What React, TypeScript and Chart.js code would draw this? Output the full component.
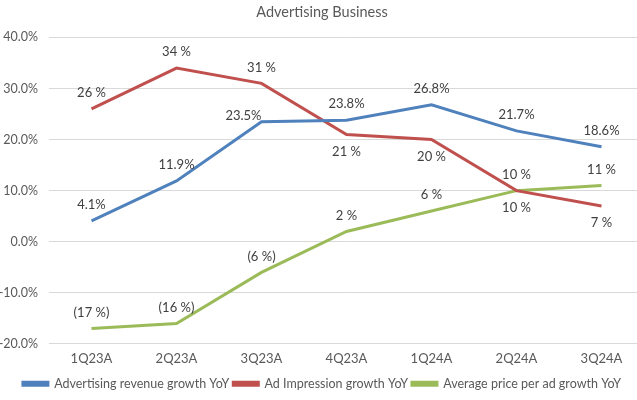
import React, { useEffect, useRef } from "react";
import { Chart, registerables } from "chart.js";

Chart.register(...registerables);

const categories = ["1Q23A", "2Q23A", "3Q23A", "4Q23A", "1Q24A", "2Q24A", "3Q24A"];
const adRevenueGrowth = [4.1, 11.9, 23.5, 23.8, 26.8, 21.7, 18.6];
const adImpressionGrowth = [26, 34, 31, 21, 20, 10, 7];
const avgPriceGrowth = [-17, -16, -6, 2, 6, 10, 11];
const yTicks = [-20, -10, 0, 10, 20, 30, 40];

const seriesNames = [
  "Advertising revenue growth YoY",
  "Ad Impression growth YoY",
  "Average price per ad growth YoY",
];
const colors = ["#4F81BD", "#C0504D", "#9BBB59"];

// label placement per point: a = above, b = below, l = left
const labelPlacement = [
  ["a", "a", "l", "a", "a", "a", "a"],
  ["a", "a", "a", "b", "b", "b", "b"],
  ["a", "a", "a", "a", "a", "a", "a"],
];

const FONT = "Lato, 'Open Sans', sans-serif";

const fmt = [
  (v: number) => v.toFixed(1) + "%",
  (v: number) => `${v} %`,
  (v: number) => (v < 0 ? `(${-v} %)` : `${v} %`),
];

const labelPlugin = {
  id: "pointLabels",
  afterDatasetsDraw(chart: any) {
    const ctx = chart.ctx;
    ctx.save();
    ctx.font = `13px ${FONT}`;
    ctx.fillStyle = "#404040";
    ctx.textBaseline = "middle";
    chart.data.datasets.forEach((ds: any, di: number) => {
      const meta = chart.getDatasetMeta(di);
      meta.data.forEach((pt: any, i: number) => {
        const p = labelPlacement[di][i];
        const text = fmt[di](ds.data[i]);
        if (p === "l") {
          ctx.textAlign = "right";
          ctx.fillText(text, pt.x, pt.y - 6);
        } else {
          ctx.textAlign = "center";
          ctx.fillText(text, pt.x, pt.y + (p === "a" ? -16 : 17));
        }
      });
    });
    ctx.restore();
  },
};

export default function App() {
  const ref = useRef<HTMLCanvasElement>(null);

  useEffect(() => {
    document.documentElement.style.overflow = "hidden";
    document.body.style.overflow = "hidden";
    const series = [adRevenueGrowth, adImpressionGrowth, avgPriceGrowth];
    const chart = new Chart(ref.current!, {
      type: "line",
      data: {
        labels: categories,
        datasets: series.map((d, i) => ({
          label: seriesNames[i],
          data: d,
          borderColor: colors[i],
          backgroundColor: colors[i],
          borderWidth: 3,
          pointRadius: 0,
          tension: 0,
        })),
      },
      options: {
        responsive: false,
        animation: false,
        devicePixelRatio: 1,
        layout: { padding: { left: 0, right: 6, top: 0, bottom: 0 } },
        plugins: {
          title: {
            display: true,
            text: "Advertising Business",
            color: "#595959",
            font: { family: FONT, size: 14.5, weight: "normal" },
            padding: { top: 4, bottom: 16 },
          },
          legend: {
            position: "bottom",
            labels: {
              boxWidth: 25,
              boxHeight: 3,
              padding: 4,
              color: "#595959",
              font: { family: FONT, size: 12.5 },
            },
          },
          tooltip: { enabled: false },
        },
        scales: {
          x: {
            offset: true,
            grid: { display: false, drawTicks: false },
            border: { display: false },
            ticks: { color: "#595959", font: { family: FONT, size: 13 }, padding: 7 },
          },
          y: {
            min: -20,
            max: 40,
            afterBuildTicks: (s: any) => {
              s.ticks = yTicks.map((v) => ({ value: v }));
            },
            grid: { color: "#D9D9D9", drawTicks: false, lineWidth: 1 },
            border: { display: false },
            ticks: {
              color: "#595959",
              font: { family: FONT, size: 12.5 },
              padding: 11,
              callback: (v: any) => Number(v).toFixed(1) + "%",
            },
            afterFit: (s: any) => {
              s.width = 49;
            },
          },
        },
      },
      plugins: [labelPlugin],
    });
    return () => chart.destroy();
  }, []);

  return (
    <div style={{ position: "absolute", left: 0, top: 0, width: 650, height: 400 }}>
      <canvas ref={ref} width={650} height={400} />
    </div>
  );
}
